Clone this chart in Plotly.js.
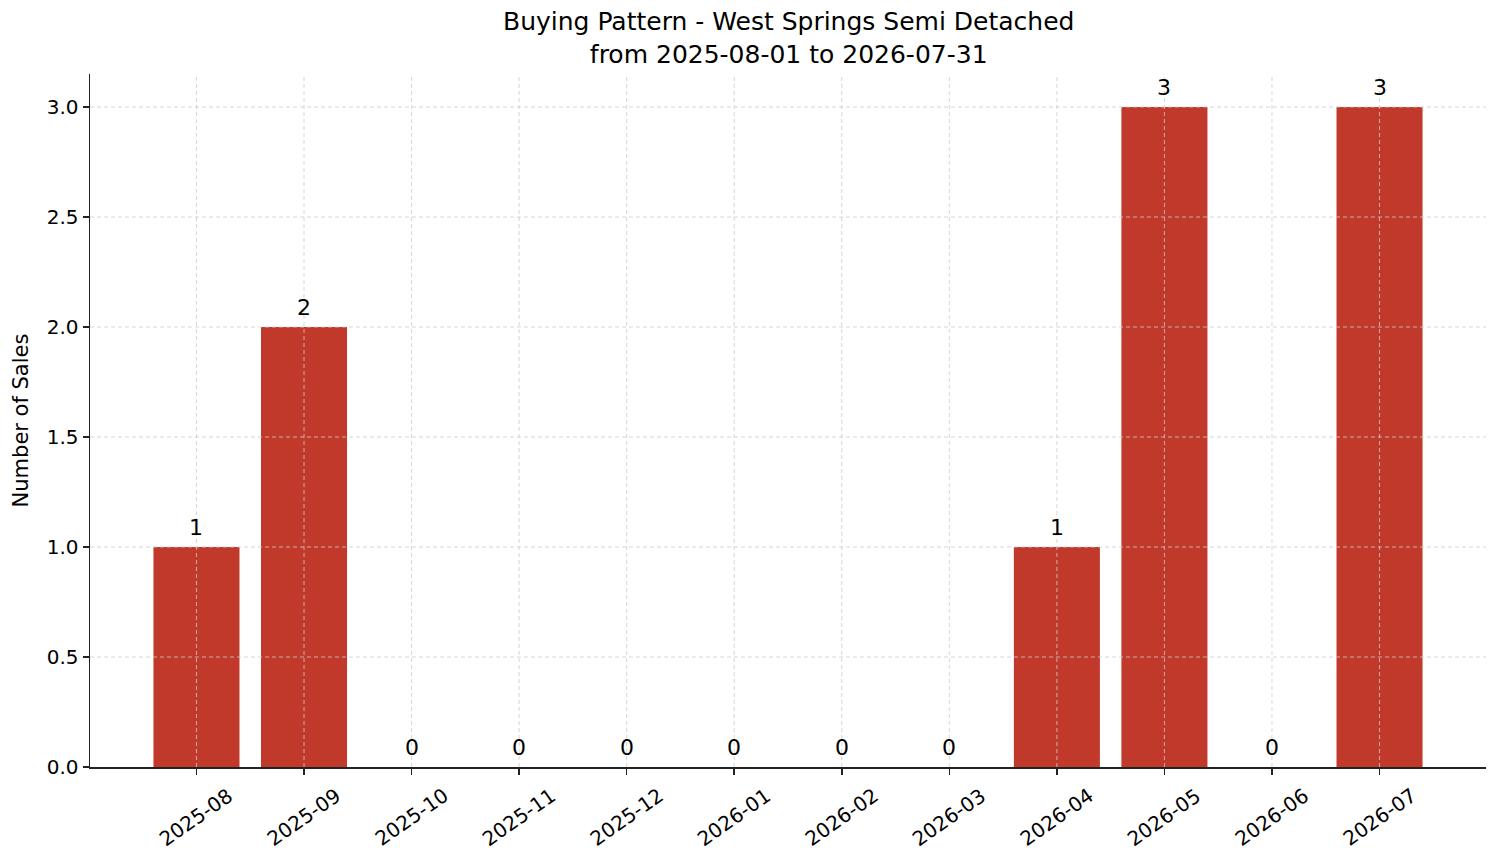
<!DOCTYPE html>
<html>
<head>
<meta charset="utf-8">
<script src="https://cdn.plot.ly/plotly-3.0.1.min.js"></script>
<style>
  html, body { margin: 0; padding: 0; background: #fff; }
  #chart { width: 1501px; height: 863px; }
</style>
</head>
<body>
<div id="chart"></div>
<script>
// monthly sales counts
const months = ['2025-08', '2025-09', '2025-10', '2025-11', '2025-12', '2026-01',
                '2026-02', '2026-03', '2026-04', '2026-05', '2026-06', '2026-07'];
const sales = [1, 2, 0, 0, 0, 0, 0, 0, 1, 3, 0, 3];
const yTicks = [0, 0.5, 1.0, 1.5, 2.0, 2.5, 3.0];

const FONT = 'DejaVu Sans, sans-serif';
const xIdx = months.map((m, i) => i);

const trace = {
    type: 'bar',
    x: xIdx,
    y: sales,
    width: 0.8,
    marker: { color: '#c0392b' },
    hoverinfo: 'skip'
}

// value labels above each bar
const valueNotes = xIdx.map(i => ({
    x: i, y: sales[i], xref: 'x', yref: 'y',
    text: String(sales[i]), showarrow: false,
    yanchor: 'bottom', yshift: 5,
    font: { family: FONT, size: 22, color: '#000' }
}))

// rotated month labels, centred under each tick like the original
const monthNotes = xIdx.map(i => ({
    x: i, y: 0, xref: 'x', yref: 'paper',
    text: months[i], showarrow: false, textangle: -35,
    xanchor: 'center', yanchor: 'middle', yshift: -50,
    font: { family: FONT, size: 20, color: '#000' }
}))

// title as a paper annotation so both lines sit above the plot
const titleNote = {
    x: 0.5, y: 1, xref: 'paper', yref: 'paper',
    text: 'Buying Pattern - West Springs Semi Detached<br>from 2025-08-01 to 2026-07-31',
    showarrow: false, xanchor: 'center', yanchor: 'bottom', yshift: 3,
    font: { family: FONT, size: 25, color: '#000' }
}

// dashed grid drawn over the bars
const gridStyle = { color: '#cccccc', width: 0.8, dash: '4px,3px' }
const vGrid = xIdx.map(i => ({
    type: 'line', layer: 'above', xref: 'x', yref: 'paper',
    x0: i, x1: i, y0: 0, y1: 1, line: gridStyle
}))
const hGrid = yTicks.slice(1).map(v => ({
    type: 'line', layer: 'above', xref: 'paper', yref: 'y',
    x0: 0, x1: 1, y0: v, y1: v, line: gridStyle
}))

const layout = {
    width: 1501,
    height: 863,
    margin: { l: 90, r: 15, t: 74, b: 96 },
    paper_bgcolor: '#fff',
    plot_bgcolor: '#fff',
    font: { family: FONT, size: 20, color: '#000' },
    showlegend: false,
    xaxis: {
        range: [-0.99, 11.99],
        tickvals: xIdx,
        showticklabels: false,
        ticks: 'outside', ticklen: 6, tickwidth: 1.5, tickcolor: '#222',
        showline: true, linecolor: '#222', linewidth: 1.5,
        showgrid: false, zeroline: false, fixedrange: true
    },
    yaxis: {
        range: [0, 3.15],
        tickvals: yTicks,
        tickformat: '.1f',
        tickfont: { family: FONT, size: 20 },
        ticks: 'outside', ticklen: 6, tickwidth: 1.5, tickcolor: '#222',
        showline: true, linecolor: '#222', linewidth: 1.5,
        showgrid: false, zeroline: false,
        title: { text: 'Number of Sales', font: { family: FONT, size: 21 }, standoff: 12 },
        fixedrange: true
    },
    annotations: [titleNote].concat(valueNotes, monthNotes),
    shapes: vGrid.concat(hGrid)
}

Plotly.newPlot('chart', [trace], layout, { displayModeBar: false, staticPlot: true })
</script>
</body>
</html>
